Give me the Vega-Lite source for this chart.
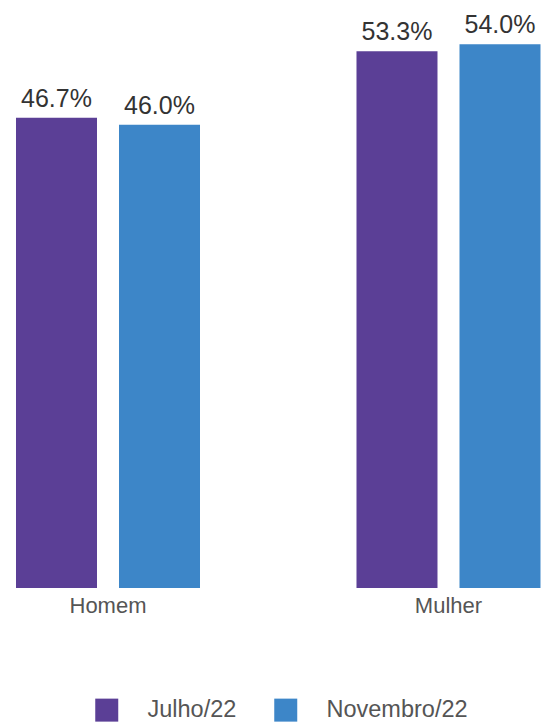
{
  "$schema": "https://vega.github.io/schema/vega-lite/v6.json",
  "width": 542,
  "height": 588,
  "padding": 0,
  "background": "white",
  "config": {"view": {"stroke": null}, "font": "Liberation Sans"},
  "data": {"values": [
    {"grupo": "Homem", "periodo": "Julho/22", "valor": 0.467},
    {"grupo": "Homem", "periodo": "Novembro/22", "valor": 0.460},
    {"grupo": "Mulher", "periodo": "Julho/22", "valor": 0.533},
    {"grupo": "Mulher", "periodo": "Novembro/22", "valor": 0.540}
  ]},
  "encoding": {
    "x": {"field": "grupo", "type": "nominal", "sort": ["Homem", "Mulher"],
      "scale": {"paddingInner": 0.4596, "paddingOuter": 0.0257, "align": 0.914},
      "axis": {"title": null, "labelAngle": 0, "domain": false, "ticks": false, "labelFontSize": 22, "labelColor": "#555555", "labelPadding": 7, "labelFont": "Liberation Sans"}},
    "xOffset": {"field": "periodo", "type": "nominal", "sort": ["Julho/22", "Novembro/22"],
      "scale": {"paddingInner": 0.2136, "paddingOuter": 0}},
    "y": {"field": "valor", "type": "quantitative",
      "scale": {"domain": [0, 0.584], "nice": false, "zero": true},
      "axis": null}
  },
  "layer": [
    {"mark": {"type": "bar"},
     "encoding": {
       "color": {"field": "periodo", "type": "nominal", "sort": ["Julho/22", "Novembro/22"],
         "scale": {"domain": ["Julho/22", "Novembro/22"], "range": ["#5b3f96", "#3d86c8"]},
         "legend": {"title": null, "orient": "none", "direction": "horizontal", "legendX": 95, "legendY": 698,
           "symbolType": "square", "symbolSize": 529, "symbolStrokeWidth": 0, "labelFontSize": 23.5, "labelColor": "#555555",
           "labelOffset": 29, "columnPadding": 37, "labelFont": "Liberation Sans", "symbolOpacity": 1}}
     }},
    {"mark": {"type": "text", "baseline": "alphabetic", "dy": -11, "fontSize": 25, "color": "#333333", "font": "Liberation Sans"},
     "encoding": {"text": {"field": "valor", "type": "quantitative", "format": ".1%"}}}
  ]
}
